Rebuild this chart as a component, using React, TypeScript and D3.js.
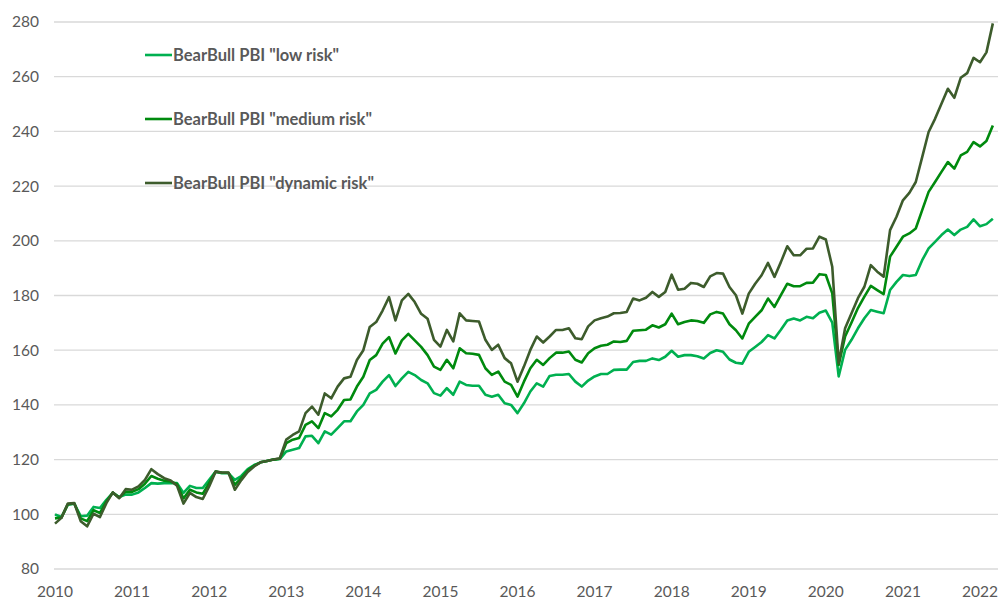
import React, { useRef, useEffect } from 'react';
import * as d3 from 'd3';

// monthly index values, Jan 2010 .. Mar 2022
const lowRisk = [
  99.9, 99, 103.5, 103.9, 99.3, 99.5, 102.7, 102.3, 105.3, 107.8, 106.3, 107.2,
  107.2, 108, 109.6, 111.4, 111.2, 111.4, 111.4, 111.4, 107.8, 110.4, 109.6, 109.6,
  112.6, 115.6, 115, 115, 112.6, 114, 116.5, 118, 119, 119.5, 120, 120.2,
  123, 123.6, 124.2, 128.5, 128.7, 126, 130.3, 129.1, 131.5, 134, 134, 137.6,
  140, 144.2, 145.5, 148.5, 150.9, 146.9, 149.7, 152.1, 150.9, 149.1, 147.9, 144.3,
  143.4, 146.1, 143.7, 148.5, 147.3, 147, 147, 143.7, 143, 143.7, 140.6, 140,
  137, 140.6, 144.9, 147.9, 146.7, 150.6, 151, 151, 151.3, 148.5, 146.7, 148.9,
  150.4, 151.3, 151.3, 152.8, 152.9, 152.9, 155.7, 156.1, 156.1, 157, 156.4, 157.6,
  159.8, 157.6, 158.2, 158.2, 157.8, 157, 159, 160, 159.4, 156.6, 155.4, 155.1,
  159.4, 161.2, 163, 165.5, 164.3, 167.5, 170.9, 171.6, 170.9, 172.2, 171.7, 173.7,
  174.5, 170.1, 150.4, 160.1, 163.8, 168, 171.7, 174.7, 174.1, 173.5, 182, 185,
  187.5, 187.1, 187.5, 192.9, 197.2, 199.6, 202.1, 204.1, 202.1, 204.1, 205.1, 207.8,
  205.3, 206.1, 208.1
];

const mediumRisk = [
  98.5, 98.8, 103.7, 104, 98.5, 97.5, 101.5, 100.5, 104.7, 108, 106.1, 108.2,
  108.2, 109.2, 111.2, 114, 113, 112.3, 112, 111, 105.8, 109, 108, 107.5,
  111.5, 115.6, 115.2, 115.2, 110.8, 113.2, 116, 117.8, 119, 119.5, 120, 120.3,
  126, 127.3, 127.9, 132.7, 134, 131.5, 137, 135.8, 138.2, 141.8, 142, 146.7,
  150.3, 156.4, 158.2, 162.4, 164.8, 158.8, 163.6, 166, 163.6, 161.2, 158.2, 154,
  152.8, 156.5, 153.4, 160.7, 158.9, 158.7, 158.3, 153.4, 151, 152.2, 148.5, 147.3,
  143, 148.5, 153.4, 156.5, 154.6, 157.1, 159.1, 159.1, 159.5, 156.5, 155.5, 158.9,
  160.7, 161.6, 162, 163.2, 163, 163.4, 167.1, 167.3, 167.5, 169.1, 168.3, 169.5,
  173.4, 169.5, 170.3, 170.9, 170.7, 170, 173.1, 174, 173.4, 169.5, 167.3, 164.3,
  169.7, 172.2, 174.6, 178.9, 175.8, 180.1, 184.3, 183.4, 183.4, 184.6, 184.7, 187.8,
  187.5, 180.8, 154.6, 165, 170.1, 175.4, 179.6, 183.5, 182, 180.5, 194.2, 197.8,
  201.5, 202.7, 204.5, 211.2, 217.9, 221.5, 225.2, 228.8, 226.4, 231.2, 232.5, 236.1,
  234.5, 236.5, 242.2
];

const dynamicRisk = [
  96.6, 98.7, 103.9, 104.1, 97.5, 95.6, 100.2, 99, 104.1, 108, 105.9, 109.2,
  109, 110.2, 112.6, 116.5, 114.7, 113.2, 112.4, 110.4, 103.9, 107.8, 106.3, 105.6,
  110.2, 115.6, 115.3, 115.3, 109, 112.5, 115.5, 117.5, 119, 119.5, 120, 120.5,
  127.3, 129, 130.3, 137, 139.4, 136.4, 144.2, 142.4, 146.7, 149.7, 150.3, 156.4,
  160, 168.5, 170.3, 174.5, 179.4, 170.9, 178.2, 180.6, 177.6, 173.3, 171.5, 163.8,
  161.3, 167.4, 163.2, 173.5, 170.9, 170.7, 170.5, 163.8, 160.1, 162, 157.1, 155.2,
  148.5, 154, 160.1, 165, 162.8, 165, 167.4, 167.4, 168, 164.4, 164, 168.7,
  170.9, 171.7, 172.3, 173.5, 173.6, 174, 178.9, 178.2, 179.2, 181.3, 179.5, 181.3,
  187.6, 182.1, 182.5, 184.6, 184.3, 183.1, 187, 188.2, 188, 183.1, 180.1, 173.4,
  180.7, 184.3, 187.4, 191.9, 186.8, 192.2, 198, 194.7, 194.7, 197.1, 197.2, 201.5,
  200.5, 190.5, 155.3, 168, 173.5, 179, 183.2, 191.1, 188.7, 186.9, 203.9, 208.8,
  214.8, 217.5, 221.5, 230.6, 239.8, 244.6, 250.1, 255.6, 252.3, 259.6, 261.3, 266.9,
  265.3, 268.9, 279.5
];

const seriesNames = [
  'BearBull PBI "low risk"',
  'BearBull PBI "medium risk"',
  'BearBull PBI "dynamic risk"'
];
const seriesColors = ['#00b050', '#008a0e', '#3d5c2c'];
const yearLabels = d3.range(2010, 2023);
const yTicks = d3.range(80, 281, 20);

const Chart = () => {
  const svgRef = useRef(null);

  useEffect(() => {
    const width = 998;
    const height = 601;
    const font = 'Lato, "Open Sans", sans-serif';
    const grey = '#595959';

    const svg = d3.select(svgRef.current)
      .attr('width', width)
      .attr('height', height);
    svg.selectAll('*').remove();

    const xScale = d3.scaleLinear()
      .domain([0, 144])
      .range([55, 980]);

    const yScale = d3.scaleLinear()
      .domain([80, 280])
      .range([569, 22]);

    // grid
    svg.selectAll('.grid-line')
      .data(yTicks)
      .enter().append('line')
      .attr('class', 'grid-line')
      .attr('x1', 54)
      .attr('x2', width)
      .attr('y1', d => yScale(d))
      .attr('y2', d => yScale(d))
      .attr('stroke', '#d9d9d9')
      .attr('stroke-width', 1.3);

    svg.selectAll('.y-label')
      .data(yTicks)
      .enter().append('text')
      .attr('class', 'y-label')
      .attr('x', 39)
      .attr('y', d => yScale(d))
      .attr('dy', '0.35em')
      .attr('text-anchor', 'end')
      .attr('font-family', font)
      .attr('font-size', 15.5)
      .attr('fill', grey)
      .text(d => d);

    svg.selectAll('.x-label')
      .data(yearLabels)
      .enter().append('text')
      .attr('class', 'x-label')
      .attr('x', d => xScale((d - 2010) * 12))
      .attr('y', 597)
      .attr('text-anchor', 'middle')
      .attr('font-family', font)
      .attr('font-size', 15.5)
      .attr('fill', grey)
      .text(d => d);

    const line = d3.line<number>()
      .x((d, i) => xScale(i))
      .y(d => yScale(d));

    [lowRisk, mediumRisk, dynamicRisk].map((values, i) => {
      svg.append('path')
        .datum(values)
        .attr('fill', 'none')
        .attr('stroke', seriesColors[i])
        .attr('stroke-width', 2.6)
        .attr('stroke-linejoin', 'round')
        .attr('d', line);
    });

    // legend
    const legend = svg.append('g');
    const legendY = [55, 119, 183];
    seriesNames.map((name, i) => {
      legend.append('line')
        .attr('x1', 145)
        .attr('x2', 172)
        .attr('y1', legendY[i])
        .attr('y2', legendY[i])
        .attr('stroke', seriesColors[i])
        .attr('stroke-width', 2.6);
      legend.append('text')
        .attr('x', 173)
        .attr('y', legendY[i])
        .attr('dy', '0.35em')
        .attr('font-family', font)
        .attr('font-size', 16.5)
        .attr('font-weight', 'bold')
        .attr('fill', grey)
        .text(name);
    });
  }, []);

  return <svg ref={svgRef} style={{ position: 'absolute', left: 0, top: 0 }}></svg>;
};

export default function App() {
  return <Chart />;
}
